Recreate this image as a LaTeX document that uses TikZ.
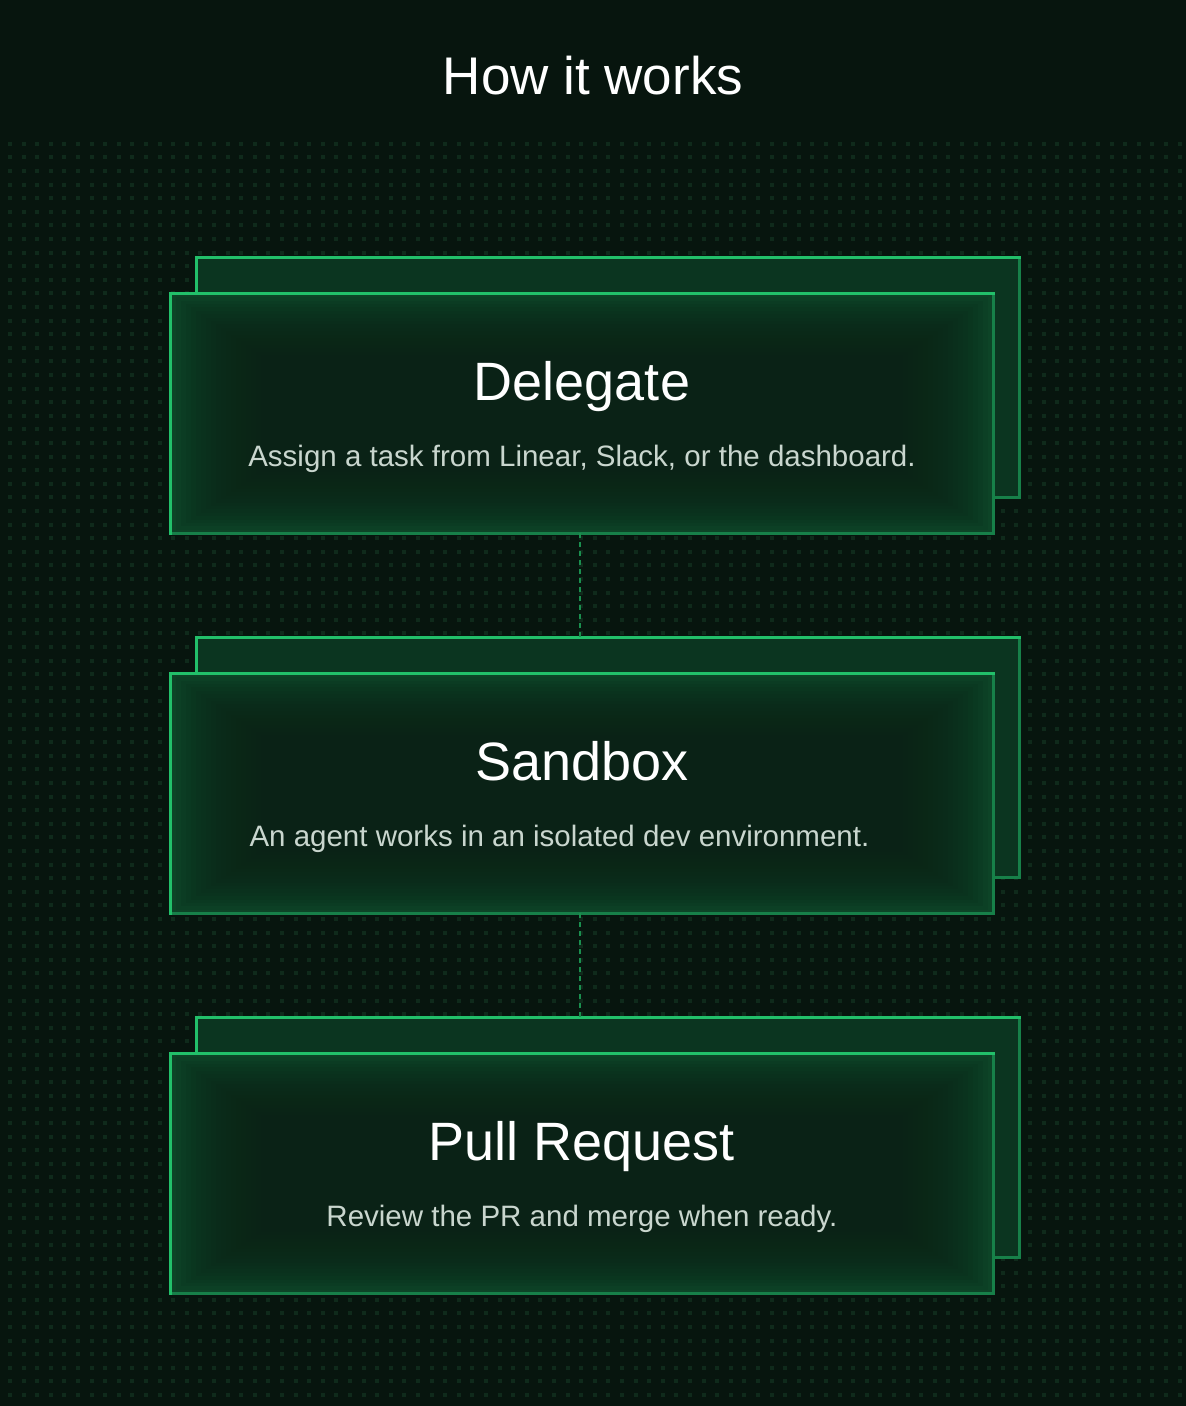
\documentclass[tikz,border=0pt]{standalone}
\usepackage{fontspec}
\setmainfont{Liberation Sans}
\usepackage{tikz}
\usetikzlibrary{positioning}
\definecolor{bgdark}{HTML}{07150E}
\definecolor{dotgreen}{HTML}{0F2A1B}
\definecolor{cardedge}{HTML}{0D4427}
\definecolor{cardmid}{HTML}{0A2216}
\definecolor{backfill}{HTML}{0B3520}
\definecolor{edgebright}{HTML}{22C06A}
\definecolor{edgedim}{HTML}{178049}
\definecolor{linkgreen}{HTML}{1A8F4E}
\definecolor{descgrey}{HTML}{C9D6CE}

\begin{document}
\begin{tikzpicture}[
    x=1pt, y=-1pt,
    font=\normalfont,
    card/.style={
        rectangle,
        inner sep=0pt,
        minimum width=822pt,
        minimum height=239pt,
        fill=cardedge
    },
    backcard/.style={
        card,
        fill=backfill
    },
    edgehi/.style={draw=edgebright, line width=2.8pt, line cap=rect},
    edgelo/.style={draw=edgedim, line width=2.8pt, line cap=rect},
    glow/.style={fill=cardmid, fill opacity=0.11},
    heading/.style={
        text=white,
        anchor=base,
        font=\fontsize{54}{60}\selectfont
    },
    descr/.style={
        text=descgrey,
        anchor=base,
        font=\fontsize{29.5}{34}\selectfont
    },
    link/.style={draw=linkgreen, line width=1.5pt, dash pattern=on 5pt off 4pt},
    dotrow/.style={draw=dotgreen, line width=4pt, dash pattern=on 4pt off 9.6pt}
  ]
  \useasboundingbox (0,0) rectangle (1186,1406);
  \fill[bgdark] (0,0) rectangle (1186,1406);

  % dotted grid behind the cards
  \foreach \r in {0,...,92}
    \draw[dotrow] (8,{143.7+\r*13.6}) -- (1186,{143.7+\r*13.6});

  \node[text=white, anchor=base, font=\fontsize{53}{60}\selectfont] (title) at (593,94) {How it works};

  % We start by placing the blocks
  \node[backcard] (delegateback) at (608,377.5) {};
  \draw[edgelo] (delegateback.north east) |- (delegateback.south west);
  \draw[edgehi] (delegateback.south west) |- (delegateback.north east);
  \node[card] (delegate) at (582,413.5) {};
  \foreach \i in {1,...,18}
    \fill[glow] ([shift={(\i*5,\i*3.4)}]delegate.north west) rectangle ([shift={(-\i*5,-\i*3.4)}]delegate.south east);
  \draw[edgelo] (delegate.north east) |- (delegate.south west);
  \draw[edgehi] (delegate.south west) |- (delegate.north east);

  \node[backcard] (sandboxback) at (608,757.5) {};
  \draw[edgelo] (sandboxback.north east) |- (sandboxback.south west);
  \draw[edgehi] (sandboxback.south west) |- (sandboxback.north east);
  \node[card] (sandbox) at (582,793.5) {};
  \foreach \i in {1,...,18}
    \fill[glow] ([shift={(\i*5,\i*3.4)}]sandbox.north west) rectangle ([shift={(-\i*5,-\i*3.4)}]sandbox.south east);
  \draw[edgelo] (sandbox.north east) |- (sandbox.south west);
  \draw[edgehi] (sandbox.south west) |- (sandbox.north east);

  \node[backcard] (pullback) at (608,1137.5) {};
  \draw[edgelo] (pullback.north east) |- (pullback.south west);
  \draw[edgehi] (pullback.south west) |- (pullback.north east);
  \node[card] (pull) at (582,1173.5) {};
  \foreach \i in {1,...,18}
    \fill[glow] ([shift={(\i*5,\i*3.4)}]pull.north west) rectangle ([shift={(-\i*5,-\i*3.4)}]pull.south east);
  \draw[edgelo] (pull.north east) |- (pull.south west);
  \draw[edgehi] (pull.south west) |- (pull.north east);

  % texts
  \node[heading] (delegatehead) at ([yshift=13.5pt]delegate.center) {Delegate};
  \node[descr] (delegatetext) at ([yshift=-52.5pt]delegate.center) {Assign a task from Linear, Slack, or the dashboard.};
  \node[heading] (sandboxhead) at ([yshift=13.5pt]sandbox.center) {Sandbox};
  \node[descr, anchor=base west] (sandboxtext) at (246,846) {An agent works in an isolated dev environment.};
  \node[heading] (pullhead) at ([yshift=13.5pt]pull.center) {Pull Request};
  \node[descr] (pulltext) at ([yshift=-52.5pt]pull.center) {Review the PR and merge when ready.};

  % dashed links
  \draw[link] ([xshift=-2pt]delegate.south) -- ([xshift=-2pt]delegate.south |- sandboxback.north);
  \draw[link] ([xshift=-2pt]sandbox.south) -- ([xshift=-2pt]sandbox.south |- pullback.north);

\end{tikzpicture}
\end{document}
